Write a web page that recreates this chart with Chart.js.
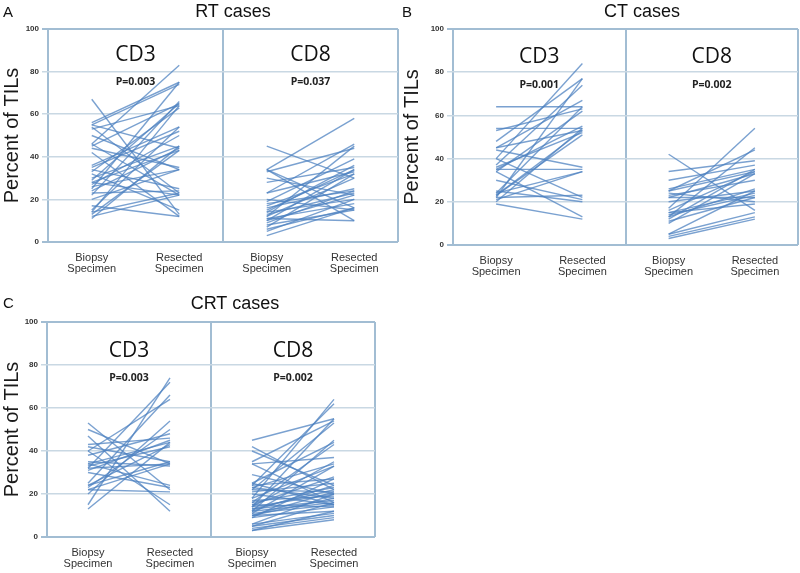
<!DOCTYPE html>
<html>
<head>
<meta charset="utf-8">
<script src="https://cdn.jsdelivr.net/npm/chart.js@4/dist/chart.umd.min.js"></script>
<style>
  body { margin: 0; background: #fff; }
  #wrap { position: relative; width: 800px; height: 573px; }
  canvas { position: absolute; }
</style>
</head>
<body>
<div id="wrap">
  <canvas id="rt" width="400" height="290" style="left:0;top:0"></canvas>
  <canvas id="ct" width="400" height="290" style="left:400px;top:0"></canvas>
  <canvas id="crt" width="420" height="283" style="left:0;top:290px"></canvas>
</div>
<script>
// --- data (percent of TILs, biopsy -> resected, one entry per patient) ---
const xCategories = [['Biopsy', 'Specimen'], ['Resected', 'Specimen']];
const markers = ['CD3', 'CD8'];

const rtCd3Biopsy   = [67,56,55,55,54,53,50,46,46,45,44,42,36,35,34,33,32,30,29,28,28,27,26,25,24,23,22,20,17,15,14,14,13,12,11];
const rtCd3Resected = [13,75,74,44,23,64,34,83,22,65,35,12,54,52,25,63,15,45,65,22,43,50,34,75,44,24,66,34,12,54,64,23,43,22,45];
const rtCd8Biopsy   = [45,34,34,34,33,30,28,23,23,20,19,18,17,16,15,14,14,13,12,12,11,11,10,10,9,8,7,6,5,3];
const rtCd8Resected = [30,58,16,10,44,22,35,46,33,15,39,24,32,25,34,20,36,23,30,45,10,18,22,34,24,15,32,16,20,16];

const ctCd3Biopsy   = [64,54,53,48,45,45,44,40,40,37,36,35,35,34,34,30,25,24,24,23,23,22,22,21,20,19];
const ctCd3Resected = [64,54,63,77,67,53,36,84,22,74,52,55,35,13,62,21,20,64,34,53,51,77,23,34,54,12];
const ctCd8Biopsy   = [42,34,30,26,25,25,24,23,22,22,20,17,16,15,15,14,13,13,12,11,10,5,5,4,3];
const ctCd8Resected = [16,39,37,35,34,44,20,30,33,22,25,54,34,24,19,23,45,26,35,22,33,15,25,13,12];

const crtCd3Biopsy   = [53,50,47,43,42,40,40,38,35,34,34,33,32,32,31,30,25,24,24,23,22,22,20,15,13];
const crtCd3Resected = [22,34,12,46,35,64,15,48,33,44,24,42,72,34,45,23,66,43,35,50,21,34,54,74,44];
const crtCd8Biopsy   = [45,42,40,35,34,34,29,25,25,24,24,23,23,22,22,21,20,18,18,17,16,16,15,15,14,14,14,13,13,12,12,12,11,11,10,10,10,9,9,6,6,5,5,4,3,3];
const crtCd8Resected = [55,22,24,54,16,37,20,44,15,62,27,18,34,53,21,25,15,64,33,19,23,43,28,14,55,20,35,17,22,45,16,24,15,33,18,12,21,27,14,11,20,10,16,9,8,12];

const pValues = {
  rt:  ['P=0.003', 'P=0.037'],
  ct:  ['P=0.001', 'P=0.002'],
  crt: ['P=0.003', 'P=0.002'],
};

// --- styles ---
const LINE_COLOR = 'rgba(78, 130, 192, 0.75)';
const BOX_COLOR  = '#a2bdd3';
const GRID_COLOR = '#c9d8e3';
const TEXT_DARK  = '#333';

// x layout: CD3 box 0..2, CD8 box 2..4, each with biopsy at +0.5 and resected at +1.5
const boxEdges = [0, 2, 4];
const catOffsets = [0.5, 1.5];

function pairDatasets(biopsy, resected, boxStart) {
  return biopsy.map((b, i) => ({
    data: [{ x: boxStart + catOffsets[0], y: b }, { x: boxStart + catOffsets[1], y: resected[i] }],
    borderColor: LINE_COLOR,
    borderWidth: 1.4,
    pointRadius: 0,
    fill: false,
  }));
}

const panelText = {
  id: 'panelText',
  afterDraw(chart, args, o) {
    const ctx = chart.ctx, xs = chart.scales.x, ys = chart.scales.y;
    ctx.save();
    ctx.fillStyle = '#111';
    ctx.textBaseline = 'middle';
    ctx.textAlign = 'left';
    ctx.font = '15px "Liberation Sans", Arial, sans-serif';
    ctx.fillText(o.letter, o.letterX, o.letterY);
    ctx.textAlign = 'center';
    ctx.font = '18px "Liberation Sans", Arial, sans-serif';
    ctx.fillText(o.title, o.titleX, o.titleY);
    markers.forEach((m, i) => {
      const cx = xs.getPixelForValue(boxEdges[i] + 1);
      ctx.fillStyle = '#111';
      ctx.font = '21px "Open Sans", sans-serif';
      ctx.fillText(m, cx, ys.getPixelForValue(o.markerY));
      ctx.font = 'bold 10.5px "Open Sans", sans-serif';
      ctx.fillStyle = '#222';
      ctx.fillText(o.pvals[i], cx, ys.getPixelForValue(o.pY));
    });
    ctx.restore();
  }
};

function makePanel(id, sets, lay, text) {
  const datasets = [
    ...pairDatasets(sets[0], sets[1], boxEdges[0]),
    ...pairDatasets(sets[2], sets[3], boxEdges[1]),
  ];
  return new Chart(document.getElementById(id), {
    type: 'line',
    data: { datasets },
    plugins: [panelText],
    options: {
      responsive: false,
      animation: false,
      layout: { padding: { top: lay.top, right: lay.right, left: 0, bottom: 0 } },
      plugins: { legend: { display: false }, tooltip: { enabled: false }, panelText: text },
      scales: {
        x: {
          type: 'linear', min: 0, max: 4,
          afterBuildTicks: s => { s.ticks = [0, 0.5, 1.5, 2, 2.5, 3.5, 4].map(v => ({ value: v })); },
          afterFit: s => { s.height = lay.xh; s.paddingRight = 0; s.paddingLeft = 0; },
          border: { display: false },
          grid: {
            color: c => boxEdges.includes(c.tick.value) ? BOX_COLOR : 'rgba(0,0,0,0)',
            lineWidth: 2, tickLength: 0,
          },
          ticks: {
            autoSkip: false, maxRotation: 0, padding: 11, color: TEXT_DARK,
            font: { family: '"Liberation Sans", Arial, sans-serif', size: 11, lineHeight: 0.95 },
            callback: v => {
              const k = ((v % 2) + 2) % 2;
              if (k === 0.5) return xCategories[0];
              if (k === 1.5) return xCategories[1];
              return '';
            },
          },
        },
        y: {
          min: 0, max: 100,
          afterFit: s => { s.width = lay.left; },
          border: { display: false },
          grid: {
            color: c => (c.tick.value === 0 || c.tick.value === 100) ? BOX_COLOR : GRID_COLOR,
            lineWidth: c => (c.tick.value === 0 || c.tick.value === 100) ? 2 : 1.5,
            tickLength: 6,
          },
          ticks: {
            stepSize: 20, padding: 3, color: TEXT_DARK,
            font: { family: '"Liberation Sans", Arial, sans-serif', size: 8, weight: 'bold' },
          },
          title: {
            display: true, text: 'Percent of TILs', color: '#1a1a1a', padding: 0,
            font: { family: '"Liberation Sans", Arial, sans-serif', size: 20 },
          },
        },
      },
    },
  });
}

makePanel('rt', [rtCd3Biopsy, rtCd3Resected, rtCd8Biopsy, rtCd8Resected],
  { top: 29, right: 2, left: 48, xh: 48 },
  { letter: 'A', letterX: 3, letterY: 13, title: 'RT cases', titleX: 233, titleY: 12, markerY: 88, pY: 75, pvals: pValues.rt });

makePanel('ct', [ctCd3Biopsy, ctCd3Resected, ctCd8Biopsy, ctCd8Resected],
  { top: 29, right: 2, left: 53, xh: 45 },
  { letter: 'B', letterX: 2, letterY: 13, title: 'CT cases', titleX: 242, titleY: 12, markerY: 87, pY: 74, pvals: pValues.ct });

makePanel('crt', [crtCd3Biopsy, crtCd3Resected, crtCd8Biopsy, crtCd8Resected],
  { top: 32, right: 45, left: 47, xh: 36 },
  { letter: 'C', letterX: 3, letterY: 14, title: 'CRT cases', titleX: 235, titleY: 14, markerY: 86.5, pY: 74, pvals: pValues.crt });
</script>
</body>
</html>
